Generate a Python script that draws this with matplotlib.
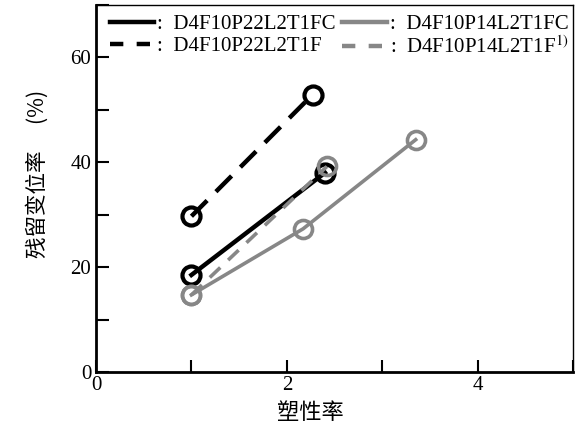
import matplotlib
matplotlib.use("Agg")
import matplotlib.pyplot as plt
from matplotlib.lines import Line2D
from matplotlib.ticker import MultipleLocator

plt.rcParams['font.family'] = ['Liberation Serif', 'Noto Sans CJK SC']
plt.rcParams['mathtext.fontset'] = 'stix'

# data
labels = [":  D4F10P22L2T1FC", ":  D4F10P22L2T1F",
          ":  D4F10P14L2T1FC", ":  D4F10P14L2T1F$^{1)}$"]
x_p22_fc = [1.0, 2.4]
y_p22_fc = [18.5, 38.0]
x_p22_f = [1.0, 2.27]
y_p22_f = [29.7, 52.9]
x_p14_fc = [1.0, 2.17, 3.35]
y_p14_fc = [14.7, 27.3, 44.3]
x_p14_f = [1.0, 2.42]
y_p14_f = [14.7, 39.2]

gray = '#878787'
dash_k = (0, (5, 2.8))
dash_g = (0, (4, 3))

fig = plt.figure(figsize=(5.76, 4.34), dpi=100)
ax = fig.add_axes([0.1667, 0.143, 0.8283, 0.8455])

ax.plot(x_p22_fc, y_p22_fc, color='black', lw=3.2, ls='-', marker='o', ms=13,
        mfc='none', mew=3)
ax.plot(x_p22_f, y_p22_f, color='black', lw=3.2, ls=dash_k, marker='o', ms=13,
        mfc='none', mew=3)
ax.plot(x_p14_fc, y_p14_fc, color=gray, lw=2.6, ls='-', marker='o', ms=13,
        mfc='none', mew=2.6)
ax.plot(x_p14_f, y_p14_f, color=gray, lw=2.6, ls=dash_g, marker='o', ms=13,
        mfc='none', mew=2.6)

handles = [Line2D([], [], color='black', lw=3.2, ls='-'),
           Line2D([], [], color='black', lw=3.2, ls=(0, (3, 3))),
           Line2D([], [], color=gray, lw=3.2, ls='-'),
           Line2D([], [], color=gray, lw=3.2, ls=(0, (3, 3)))]

ax.set_xlim(0, 5)
ax.set_ylim(0, 70)
ax.xaxis.set_major_locator(MultipleLocator(2))
ax.xaxis.set_minor_locator(MultipleLocator(1))
ax.yaxis.set_major_locator(MultipleLocator(20))
ax.yaxis.set_minor_locator(MultipleLocator(10))
ax.tick_params(which='both', direction='in', length=9, width=1.5, labelsize=15,
               top=False, right=False)
ax.tick_params(axis='x', pad=3)
for s in ['left', 'bottom']:
    ax.spines[s].set_linewidth(2)
for s in ['top', 'right']:
    ax.spines[s].set_linewidth(1)

ax.set_xlabel("塑性率", fontsize=16, family=['Noto Sans CJK SC'])
ax.xaxis.set_label_coords(0.449, -0.08)
ax.set_ylabel("残留变位率　 (%)", fontsize=15.5, family=['Noto Sans CJK SC'])
ax.yaxis.set_label_coords(-0.098, 0.54)

ax.legend(handles, labels, loc='upper left', bbox_to_anchor=(0.0, 1.01), ncol=2,
          frameon=False, fontsize=15, handlelength=2.15, handletextpad=0.15,
          columnspacing=0.3, labelspacing=0.1, borderaxespad=0.25)

fig.savefig("out.png", dpi=100)
